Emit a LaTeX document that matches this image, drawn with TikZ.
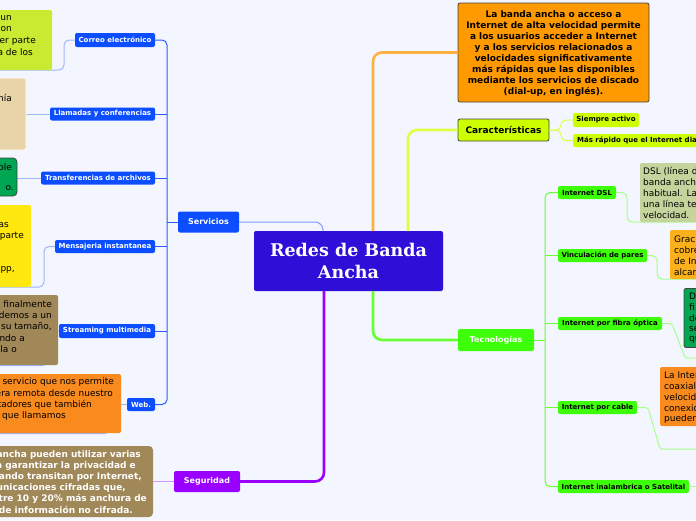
\documentclass[tikz,border=0pt]{standalone}
\usepackage{fontspec}
\setmainfont{DejaVu Sans}
\newfontfamily\titlefont{DejaVu Serif}
\definecolor{bgc}{HTML}{F3F6FF}
\definecolor{bluen}{HTML}{0B4DFF}
\definecolor{blueline}{HTML}{2A5CFF}
\definecolor{bluelight}{HTML}{9DB7FF}
\definecolor{centerc}{HTML}{2F0FD7}
\definecolor{orangec}{HTML}{FF9900}
\definecolor{orangeline}{HTML}{FFB040}
\definecolor{limec}{HTML}{CCFF00}
\definecolor{limeline}{HTML}{DDFF44}
\definecolor{greenc}{HTML}{3EFF0A}
\definecolor{greenline}{HTML}{66FF33}
\definecolor{greenlight}{HTML}{A8FF8C}
\definecolor{purplec}{HTML}{9900FF}
\definecolor{purplelight}{HTML}{CC99FF}
\definecolor{limebox}{HTML}{C8EA30}
\definecolor{beigebox}{HTML}{E8D4A8}
\definecolor{greenbox}{HTML}{00A651}
\definecolor{yellowbox}{HTML}{FFE80F}
\definecolor{brownbox}{HTML}{A08858}
\definecolor{orangebox}{HTML}{F98A1E}
\definecolor{olivebox}{HTML}{C5D49C}
\definecolor{amberbox}{HTML}{FBB11B}
\definecolor{darkborder}{HTML}{444444}
\begin{document}
\begin{tikzpicture}[x=1pt,y=-1pt,
  lbl/.style={rounded corners=2pt, inner sep=0pt, font=\bfseries\fontsize{7}{8}\selectfont, text=white, fill=bluen},
  glbl/.style={rounded corners=2pt, inner sep=0pt, font=\bfseries\fontsize{7}{8}\selectfont, text=black, fill=greenc},
  ylbl/.style={rounded corners=2pt, inner sep=0pt, font=\bfseries\fontsize{7}{8}\selectfont, text=black, fill=limec},
  rbox/.style={rounded corners=2pt, inner sep=0pt},
  txt/.style={inner sep=0pt, font=\fontsize{9}{11}\selectfont},
  btxt/.style={inner sep=0pt, font=\bfseries\fontsize{9}{11}\selectfont, text=white},
  thickline/.style={line width=2.6pt, rounded corners=9pt},
  thinline/.style={line width=1pt, rounded corners=5pt}
]
\useasboundingbox (0,0) rectangle (696,520);
\clip (0,0) rectangle (696,520);
\fill[bgc] (0,0) rectangle (696,520);

% ---------- main nodes ----------
\node[rbox, fill=centerc, minimum width=189pt, minimum height=60pt] (center) at (348.5,261) {};
\node[text=white, font=\titlefont\bfseries\fontsize{17.5}{22}\selectfont, align=center, inner sep=0pt] (centertxt) at (348.5,261) {Redes de Banda\\Ancha};

\node[rbox, fill=orangec, draw=darkborder, line width=0.8pt, minimum width=191pt, minimum height=99pt] (def) at (553.5,52.5) {};
\node[inner sep=0pt, font=\bfseries\fontsize{9}{10.9}\selectfont, align=center] (deftxt) at (553.5,53.5) {La banda ancha o acceso a\\Internet de alta velocidad permite\\a los usuarios acceder a Internet\\y a los servicios relacionados a\\velocidades significativamente\\más rápidas que las disponibles\\mediante los servicios de discado\\(dial-up, en inglés).};

\node[rbox, fill=limec, draw=darkborder, line width=0.8pt, minimum width=91pt, minimum height=22pt, font=\bfseries\fontsize{9}{10}\selectfont] (caract) at (503.5,130) {Características};
\node[ylbl, minimum width=66pt, minimum height=14pt] (siempre) at (606,120) {Siempre activo};
\node[ylbl, minimum width=150pt, minimum height=13pt, anchor=west] (rapido) at (573,140.5) {};
\node[inner sep=0pt, font=\bfseries\fontsize{7}{8}\selectfont, anchor=west] (rapidotxt) at (577,140.5) {Más rápido que el Internet dial-up};

\node[rbox, fill=greenc, minimum width=76pt, minimum height=22pt, font=\bfseries\fontsize{8}{10}\selectfont, text=white] (tecno) at (496,340) {Tecnologías};

\node[rbox, fill=bluen, minimum width=61pt, minimum height=21pt, font=\bfseries\fontsize{8}{10}\selectfont, text=white] (serv) at (208.5,222) {Servicios};
\node[rbox, fill=purplec, minimum width=66pt, minimum height=21pt, font=\bfseries\fontsize{8}{10}\selectfont, text=white] (segu) at (207,481.5) {Seguridad};

% ---------- tecnologias labels ----------
\node[glbl, minimum width=58pt, minimum height=13pt] (dsl) at (587,192.5) {Internet DSL};
\node[glbl, minimum width=89pt, minimum height=13pt] (vinc) at (602.5,255.5) {Vinculación de pares};
\node[glbl, minimum width=104pt, minimum height=13pt] (fibra) at (610,323.5) {Internet por fibra óptica};
\node[glbl, minimum width=79pt, minimum height=13pt] (cable) at (597.5,407.5) {Internet por cable};
\node[glbl, minimum width=131pt, minimum height=13pt] (inal) at (623.5,486.5) {Internet inalambrica o Satelital};

% ---------- servicios labels ----------
\node[lbl, minimum width=80pt, minimum height=14pt] (correo) at (115,40) {Correo electrónico};
\node[lbl, minimum width=105pt, minimum height=13pt] (llam) at (102.5,114) {Llamadas y conferencias};
\node[lbl, minimum width=114pt, minimum height=13pt] (transf) at (98,178) {Transferencias de archivos};
\node[lbl, minimum width=100pt, minimum height=13pt] (mens) at (105,246.5) {Mensajeria instantanea};
\node[lbl, minimum width=96pt, minimum height=14pt] (stream) at (107,331) {Streaming multimedia};
\node[lbl, minimum width=28pt, minimum height=13pt] (web) at (141,404.5) {Web.};

% ---------- coordinates for connectors ----------
\coordinate (cOrTop) at (373,231);
\coordinate (cLiTop) at (408,231);
\coordinate (cGrBot) at (373,291);
\coordinate (cPuBot) at (324,291);
\coordinate (cBlTop) at (323,231);

% ---------- main connectors ----------
\draw[thickline, draw=orangeline] (cOrTop) -- (373,52.5) -- (def.west);
\draw[thickline, draw=limeline] (cLiTop) -- (408,130) -- (caract.west);
\draw[thickline, draw=greenline] (cGrBot) -- (373,340) -- (tecno.west);
\draw[thickline, draw=purplec] (cPuBot) -- (324,481.5) -- (segu.east);
\draw[line width=1pt, draw=bluelight!70!blueline, rounded corners=8pt] (serv.east) -- (323,222) -- (cBlTop);

% caracteristicas branches
\draw[thinline, draw=limeline] (caract.east) -- (561,130) -- (561,120) -- (siempre.west);
\draw[thinline, draw=limeline] (caract.east) -- (561,130) -- (561,140.5) -- (rapido.west);

% tecnologias tree
\draw[thinline, draw=greenline] (tecno.east) -- (545,340);
\draw[thinline, draw=greenline] (dsl.west) -- (545,192.5) -- (545,486.5) -- (inal.west);
\draw[thinline, draw=greenline] (vinc.west) -- (545,255.5);
\draw[thinline, draw=greenline] (fibra.west) -- (545,323.5);
\draw[thinline, draw=greenline] (cable.west) -- (545,407.5);

% servicios tree
\draw[thinline, draw=blueline] (serv.west) -- (167,222);
\draw[thinline, draw=blueline] (correo.east) -- (167,40) -- (167,404.5) -- (web.east);
\draw[thinline, draw=blueline] (llam.east) -- (167,114);
\draw[thinline, draw=blueline] (transf.east) -- (167,178);
\draw[thinline, draw=blueline] (mens.east) -- (167,246.5);
\draw[thinline, draw=blueline] (stream.east) -- (167,331);

% ---------- leaf connectors (drawn before the leaf boxes) ----------
\coordinate (eCorreo) at (0,70);
\coordinate (eLlam) at (26,114);
\coordinate (eTransf) at (17,178);
\coordinate (eMens) at (0,287);
\coordinate (eStream) at (0,365.5);
\coordinate (eWeb) at (0,433.5);
\coordinate (eSegu) at (153,481.5);
\draw[thinline, draw=bluelight] (correo.west) -- (64,40) -- (64,70) -- (eCorreo);
\draw[thinline, draw=bluelight] (llam.west) -- (eLlam);
\draw[thinline, draw=bluelight] (transf.west) -- (eTransf);
\draw[thinline, draw=bluelight] (mens.west) -- (44,246.5) -- (44,287) -- (eMens);
\draw[thinline, draw=bluelight] (stream.west) -- (48,331) -- (48,365.5) -- (eStream);
\draw[thinline, draw=bluelight] (web.west) -- (110,404.5) -- (110,433.5) -- (eWeb);
\draw[line width=1.6pt, draw=purplelight] (segu.west) -- (eSegu);

\coordinate (eDsl) at (696,222);
\coordinate (eVinc) at (696,279);
\coordinate (eFibra) at (696,358);
\coordinate (eCable) at (696,449);
\coordinate (eInal) at (696,486.5);
\draw[thinline, draw=greenlight] (dsl.east) -- (627,192.5) -- (627,222) -- (eDsl);
\draw[thinline, draw=greenlight] (vinc.east) -- (657,255.5) -- (657,279) -- (eVinc);
\draw[thinline, draw=greenlight, rounded corners=2pt] (fibra.east) -- (672,323.5) -- (685,358) -- (eFibra);
\draw[thinline, draw=greenlight, rounded corners=2pt] (cable.east) -- (648,407.5) -- (660,449) -- (eCable);
\draw[thinline, draw=greenlight] (inal.east) -- (eInal);

% ---------- left leaf boxes ----------
\node[rbox, fill=limebox, minimum width=112pt, minimum height=60pt] (bCorreo) at (-4,40) {};
\node[txt, anchor=east] (tC1) at (12,18) {un};
\node[txt, anchor=east] (tC2) at (12,29.5) {on};
\node[txt, anchor=east] (tC3) at (36,41) {er parte};
\node[txt, anchor=east] (tC4) at (33,52.5) {a de los};

\node[rbox, fill=beigebox, draw=white, line width=0.8pt, minimum width=86pt, minimum height=72pt] (bLlam) at (-17,114) {};
\node[txt, anchor=east] (tL1) at (12,98) {nía};

\node[rbox, fill=greenbox, draw=darkborder, line width=0.8pt, rounded corners=4pt, minimum width=57pt, minimum height=38pt] (bTransf) at (-11.5,177) {};
\node[txt, anchor=east] (tT1) at (12,167) {ble};
\node[txt, anchor=east] (tT2) at (14,188) {o.};

\node[rbox, fill=yellowbox, minimum width=71pt, minimum height=82pt] (bMens) at (-4.5,246) {};
\node[txt, anchor=east] (tM1) at (9,225) {as};
\node[txt, anchor=east] (tM2) at (24,236) {parte};
\node[txt, anchor=east] (tM3) at (15,270) {pp,};

\node[rbox, fill=brownbox, minimum width=98pt, minimum height=70pt] (bStream) at (9,330) {};
\node[txt, anchor=east] (tS1) at (52,304) {o finalmente};
\node[txt, anchor=east] (tS2) at (52,315.5) {demos a un};
\node[txt, anchor=east] (tS3) at (52,327) {su tamaño,};
\node[txt, anchor=east] (tS4) at (25,338) {ndo a};
\node[txt, anchor=east] (tS5) at (17,349) {la o};

\node[rbox, fill=orangebox, minimum width=161pt, minimum height=59pt] (bWeb) at (40.5,403.5) {};
\node[txt, anchor=east] (tW1) at (114,382) {servicio que nos permite};
\node[txt, anchor=east] (tW2) at (113,393) {era remota desde nuestro};
\node[txt, anchor=east] (tW3) at (92,404.5) {tadores que también};
\node[txt, anchor=east] (tW4) at (66,416) {que llamamos};

\node[rbox, fill=brownbox, rounded corners=4pt, minimum width=193pt, minimum height=71pt] (bSegu) at (56.5,481.5) {};
\node[btxt, anchor=east] (tG1) at (141,455) {ancha pueden utilizar varias};
\node[btxt, anchor=east] (tG2) at (136,466) {a garantizar la privacidad e};
\node[btxt, anchor=east] (tG3) at (142,477) {ando transitan por Internet,};
\node[btxt, anchor=east] (tG4) at (126,488) {unicaciones cifradas que,};
\node[btxt, anchor=east] (tG5) at (147,499) {tre 10 y 20\% más anchura de};
\node[btxt, anchor=east] (tG6) at (133,510) {de información no cifrada.};

% ---------- right leaf boxes ----------
\node[rbox, fill=olivebox, minimum width=100pt, minimum height=59pt] (bDsl) at (690,192.5) {};
\node[txt, anchor=west] (tD1) at (643,171) {DSL (línea de};
\node[txt, anchor=west] (tD2) at (643,182) {banda ancha};
\node[txt, anchor=west] (tD3) at (643,193) {habitual. La};
\node[txt, anchor=west] (tD4) at (643,204) {una línea te};
\node[txt, anchor=west] (tD5) at (643,215) {velocidad.};

\node[rbox, fill=amberbox, minimum width=70pt, minimum height=49pt] (bVinc) at (705,254.5) {};
\node[txt, anchor=west] (tV1) at (674,239) {Graci};
\node[txt, anchor=west] (tV2) at (674,250) {cobre};
\node[txt, anchor=west] (tV3) at (674,261.5) {de In};
\node[txt, anchor=west] (tV4) at (674,272) {alcar};

\node[rbox, fill=greenbox, draw=darkborder, line width=0.8pt, minimum width=56pt, minimum height=59pt] (bFibra) at (712,318) {};
\node[txt, anchor=west] (tF1) at (689,296) {D};
\node[txt, anchor=west] (tF2) at (689,307) {fi};
\node[txt, anchor=west] (tF3) at (689,318) {de};
\node[txt, anchor=west] (tF4) at (689,329) {se};
\node[txt, anchor=west] (tF5) at (689,340) {qu};

\node[rbox, fill=orangebox, minimum width=80pt, minimum height=59pt] (bCable) at (700,396.5) {};
\node[txt, anchor=west] (tK1) at (664,375) {La Inter};
\node[txt, anchor=west] (tK2) at (664,386) {coaxial};
\node[txt, anchor=west] (tK3) at (664,397) {velocid};
\node[txt, anchor=west] (tK4) at (664,408) {conexió};
\node[txt, anchor=west] (tK5) at (664,419) {pueden};
\end{tikzpicture}
\end{document}
